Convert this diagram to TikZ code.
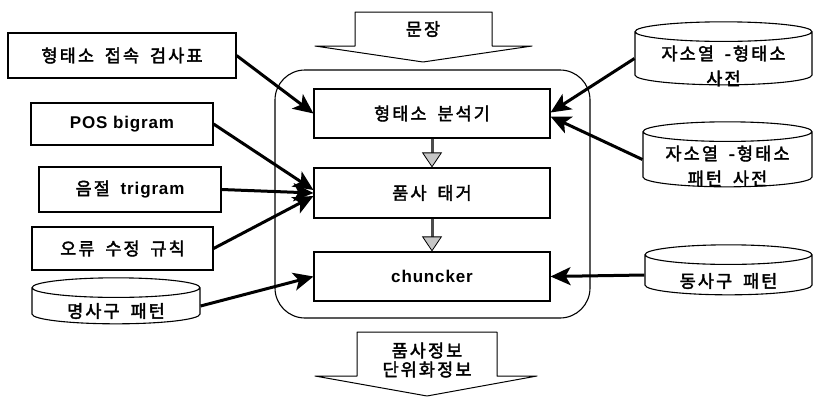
\documentclass[tikz,border=0pt]{standalone}
\usepackage{fontspec}
\newfontfamily\kr[LetterSpace=12,WordSpace=1.8,FakeBold=2.2]{Noto Sans CJK KR}
\newfontfamily\lat[LetterSpace=5]{Liberation Sans}
\usetikzlibrary{shapes.geometric,arrows.meta}

\begin{document}
\begin{tikzpicture}[x=1pt,y=-1pt,font={\kr\fontsize{17.5}{23}\selectfont},
  box/.style={draw,rectangle,line width=1.1pt,inner sep=0pt},
  db/.style={draw,cylinder,shape border rotate=90,aspect=0.14,text width=140pt,line width=1.1pt,inner sep=0pt},
  dbtext/.style={align=center,font={\kr\fontsize{17.5}{25}\selectfont}},
  latin/.style={font={\lat\bfseries\fontsize{17}{22}\selectfont}},
  feed/.style={line width=3pt,-{Stealth[length=20pt,width=18pt,inset=5pt]}},
  pass/.style={line width=3pt,draw=gray!60!black,-{Triangle[length=15pt,width=20pt,color=black,fill=gray!45,line width=0.8pt]}},
  bigarrow/.style={draw,line width=1pt,line join=round}]
\useasboundingbox (0,0) rectangle (814,397);
% input and output of the whole chain
\draw[bigarrow] (355,12) -- (492,12) -- (492,46) -- (532,46) -- (423,62) -- (315,46) -- (355,46) -- cycle;
\node (src) at (423,29) {문장};
\draw[bigarrow] (357,332) -- (497,332) -- (497,376) -- (537,376) -- (427,396) -- (315,376) -- (357,376) -- cycle;
\node[align=center] (out) at (427,360) {품사정보\\[-4pt]단위화정보};
% engine
\node[draw,line width=1.1pt,rounded corners=30pt,minimum width=315pt,minimum height=248pt] (engine) at (432.5,194) {};
\node[box,minimum width=236pt,minimum height=49pt] (ana) at (432,113.5) {형태소 분석기};
\node[box,minimum width=236pt,minimum height=50pt] (tag) at (432,193) {품사 태거};
\node[box,latin,minimum width=236pt,minimum height=49pt] (chk) at (432,276.5) {chuncker};
\draw[pass] (ana) -- (tag);
\draw[pass] (tag) -- (chk);
% knowledge on the left
\node[box,minimum width=228pt,minimum height=45pt] (ctab) at (122,55.5) {형태소 접속 검사표};
\node[box,latin,minimum width=182pt,minimum height=42pt] (bigram) at (122,124) {POS bigram};
\node[box,minimum width=182pt,minimum height=45pt] (trigram) at (130,189.5) {음절 {\lat\bfseries\fontsize{17}{22}\selectfont trigram}};
\node[box,minimum width=181pt,minimum height=43pt] (rule) at (122.5,248.5) {오류 수정 규칙};
\node[db,minimum width=168pt,minimum height=46pt] (npat) at (116,306) {};
\node[dbtext] (npat text) at (116,311) {명사구 패턴};
% knowledge on the right
\node[db,minimum width=177pt,minimum height=63pt] (jdic) at (723.5,58.5) {};
\node[dbtext] (jdic text) at (723.5,66) {자소열 -형태소\\사전};
\node[db,minimum width=169pt,minimum height=65pt] (jpat) at (727.5,159.5) {};
\node[dbtext] (jpat text) at (727.5,166) {자소열 -형태소\\패턴 사전};
\node[db,minimum width=167pt,minimum height=50pt] (vpat) at (728.5,275) {};
\node[dbtext] (vpat text) at (728.5,281) {동사구 패턴};
\draw[feed] (ctab.east) -- (ana.west);
\foreach \src/\dy in {bigram/3,trigram/0,rule/-3} {
  \draw[feed] (\src.east) -- ([yshift=\dy pt]tag.west);
}
\draw[feed] (npat.east) -- (chk.west);
\draw[feed] (jdic.west) -- ([yshift=1pt]ana.east);
\draw[feed] (jpat.west) -- ([yshift=-3pt]ana.east);
\draw[feed] (vpat.west) -- (chk.east);
\end{tikzpicture}
\end{document}
